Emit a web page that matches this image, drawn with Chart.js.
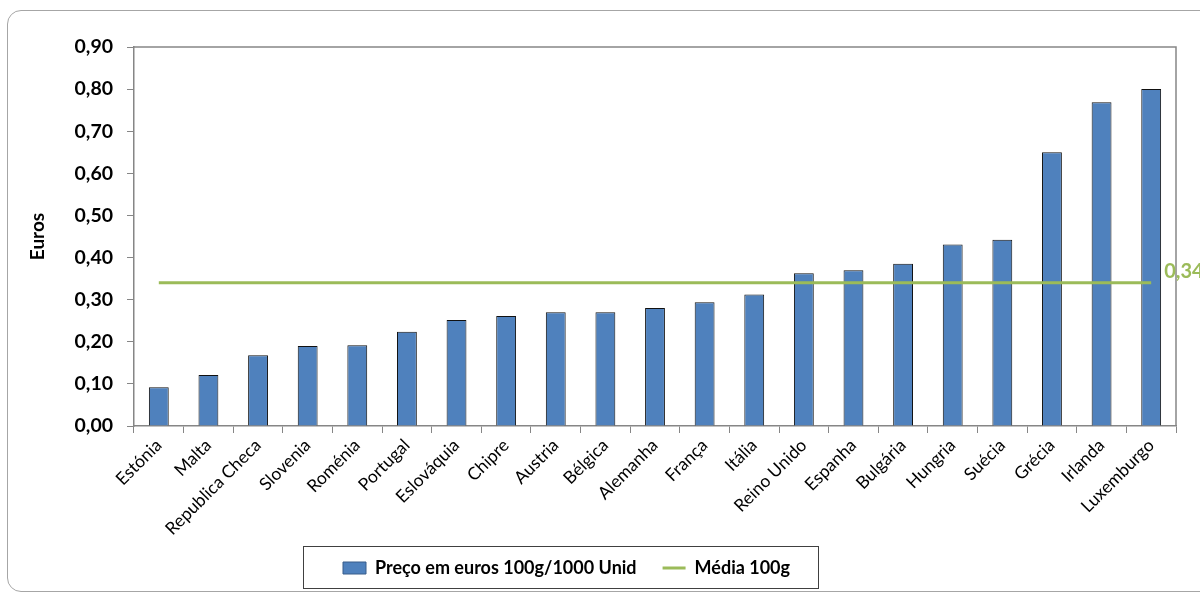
<!DOCTYPE html>
<html>
<head>
<meta charset="utf-8">
<script src="https://cdn.jsdelivr.net/npm/chart.js@4/dist/chart.umd.min.js"></script>
<style>
  html, body { margin: 0; padding: 0; background: #fff; overflow: hidden; }
  #frame { position: absolute; left: 7px; top: 10px; width: 1230px; height: 582px;
           border: 1px solid #a6a6a6; border-radius: 14px; box-sizing: border-box; }
  #wrap { position: absolute; left: 0; top: 0; width: 1200px; height: 597px; }
</style>
</head>
<body>
<div id="frame"></div>
<div id="wrap"><canvas id="myChart" width="1200" height="597"></canvas></div>
<script>
const paises = ['Estónia', 'Malta', 'Republica Checa', 'Slovenia', 'Roménia', 'Portugal', 'Eslováquia',
  'Chipre', 'Austria', 'Bélgica', 'Alemanha', 'França', 'Itália', 'Reino Unido', 'Espanha',
  'Bulgária', 'Hungria', 'Suécia', 'Grécia', 'Irlanda', 'Luxemburgo'];
const precos = [0.092, 0.121, 0.168, 0.190, 0.192, 0.224, 0.252, 0.261, 0.270, 0.270, 0.280,
  0.294, 0.312, 0.363, 0.370, 0.385, 0.431, 0.442, 0.650, 0.769, 0.800];
const media = [0.34, 0.34, 0.34, 0.34, 0.34, 0.34, 0.34, 0.34, 0.34, 0.34, 0.34,
  0.34, 0.34, 0.34, 0.34, 0.34, 0.34, 0.34, 0.34, 0.34, 0.34];
const yTicks = [0, 0.1, 0.2, 0.3, 0.4, 0.5, 0.6, 0.7, 0.8, 0.9];

const azul = '#4F81BD';
const verde = '#9BBB59';
const cinza = '#868686';
const legPad = 26;

const virgula = (v) => v.toFixed(2).replace('.', ',');

// moldura da area do grafico + etiqueta da media + caixa da legenda
const extras = {
  id: 'extras',
  afterLayout(chart) {
    const lg = chart.legend;
    const w = lg.width;
    lg.left = 343 - legPad;
    lg.right = lg.left + w;
    const h = lg.height;
    lg.top = 568 - legPad - 9;
    lg.bottom = lg.top + h;
  },
  afterDraw(chart) {
    const ctx = chart.ctx;
    const a = chart.chartArea;
    ctx.save();
    ctx.strokeStyle = cinza;
    ctx.lineWidth = 1.5;
    ctx.beginPath();
    ctx.moveTo(a.left, a.top);
    ctx.lineTo(a.right, a.top);
    ctx.lineTo(a.right, a.bottom);
    ctx.stroke();

    // caixa da legenda
    ctx.strokeStyle = '#404040';
    ctx.lineWidth = 1;
    ctx.strokeRect(303.5, 546.5, 515, 42);

    // valor da media
    const meta = chart.getDatasetMeta(1);
    const pt = meta.data[meta.data.length - 1];
    ctx.fillStyle = verde;
    ctx.font = 'bold 20px Lato';
    ctx.textBaseline = 'middle';
    ctx.textAlign = 'left';
    ctx.fillText(virgula(media[media.length - 1]), pt.x + 13, pt.y - 11);
    ctx.restore();
  }
};

new Chart(document.getElementById('myChart'), {
  type: 'bar',
  data: {
    labels: paises,
    datasets: [{
      type: 'bar',
      label: 'Preço em euros 100g/1000 Unid',
      data: precos,
      backgroundColor: azul,
      borderColor: '#111',
      borderWidth: 1,
      barPercentage: 0.4,
      categoryPercentage: 1,
      order: 2
    }, {
      type: 'line',
      label: 'Média 100g',
      data: media,
      borderColor: verde,
      borderWidth: 3,
      pointRadius: 0,
      fill: false,
      order: 1
    }]
  },
  options: {
    responsive: false,
    animation: false,
    layout: { padding: { left: 0, right: 24, top: 47, bottom: 4 } },
    plugins: {
      tooltip: { enabled: false },
      legend: {
        position: 'bottom',
        align: 'start',
        labels: {
          color: '#000',
          font: { family: 'Lato', size: 18, weight: 'bold' },
          boxWidth: 23,
          boxHeight: 12,
          padding: legPad,
          usePointStyle: true,
          pointStyleWidth: 23,
          generateLabels: (chart) => [
            { text: 'Preço em euros 100g/1000 Unid', fillStyle: azul, strokeStyle: '#385D8A',
              lineWidth: 1, pointStyle: 'rect', datasetIndex: 0 },
            { text: 'Média 100g', fillStyle: verde, strokeStyle: verde,
              lineWidth: 3, pointStyle: 'line', datasetIndex: 1 }
          ]
        }
      }
    },
    scales: {
      x: {
        afterFit: (s) => { s.height = 113; },
        border: { color: cinza, width: 1.5 },
        grid: { drawOnChartArea: false, color: cinza, tickLength: 7, offset: true },
        ticks: {
          color: '#000',
          font: { family: 'Lato', size: 17.5 },
          minRotation: 45,
          maxRotation: 45,
          autoSkip: false,
          padding: 2
        }
      },
      y: {
        min: 0,
        max: 0.9,
        afterFit: (s) => { s.width = 134; },
        afterBuildTicks: (s) => { s.ticks = yTicks.map(v => ({ value: v })); },
        border: { color: cinza, width: 1.5 },
        grid: { drawOnChartArea: false, color: cinza, tickLength: 7 },
        ticks: {
          color: '#000',
          font: { family: 'Lato', size: 19.5, weight: 'bold' },
          padding: 14,
          callback: (v) => virgula(v)
        },
        title: {
          display: true,
          text: 'Euros',
          color: '#000',
          font: { family: 'Lato', size: 19, weight: 'bold' },
          padding: { top: 26, bottom: 0 }
        }
      }
    }
  },
  plugins: [extras]
});
</script>
</body>
</html>
